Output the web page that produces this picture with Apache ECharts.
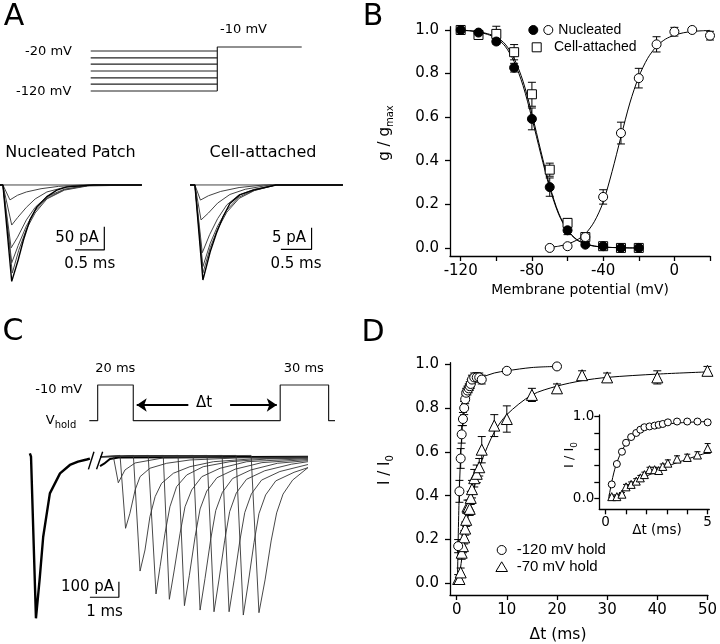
<!DOCTYPE html>
<html><head><meta charset="utf-8">
<script src="https://cdn.jsdelivr.net/npm/echarts@6/dist/echarts.min.js"></script>
<style>html,body{margin:0;padding:0;background:#fff}#c{width:720px;height:644px}</style>
</head><body><div id="c"></div>
<script>
// ---------- Panel A : voltage protocol (schematic, mV) ----------
const protoALevels = [-20, -37, -53, -70, -87, -103, -120];
const protoAStepTime = [0, 60];
const protoATest = [[60, -120], [60, -10], [100, -10]];

// ---------- Panel A : current traces [ms, pA] ----------
const nucTrace1 = [[0,0],[2.42,0]];
const nucTrace2 = [[0,0],[0.05,0],[0.17,-32],[0.3,-22],[0.45,-15],[0.7,-8],[1.0,-3],[1.4,0],[2.42,0]];
const nucTrace3 = [[0,0],[0.05,0],[0.2,-86],[0.3,-70],[0.45,-48],[0.6,-30],[0.8,-15],[1.1,-5],[1.5,0],[2.42,0]];
const nucTrace4 = [[0,0],[0.05,0],[0.19,-135],[0.3,-112],[0.45,-75],[0.6,-48],[0.8,-25],[1.1,-9],[1.5,-1],[2.42,0]];
const nucTrace5 = [[0,0],[0.05,0],[0.2,-167],[0.31,-130],[0.45,-88],[0.6,-55],[0.8,-28],[1.1,-10],[1.5,-1],[2.42,0]];
const nucTrace6 = [[0,0],[0.05,0],[0.21,-189],[0.32,-140],[0.45,-95],[0.6,-60],[0.8,-30],[1.1,-11],[1.5,-2],[2.42,0]];
const nucTrace7 = [[0,0],[0.05,0],[0.2,-207],[0.31,-161],[0.40,-118],[0.51,-75],[0.63,-47],[0.80,-25],[0.97,-11],[1.14,-4],[1.6,0],[2.42,0]];
const nucScaleBar = [[1.28,-139.5],[1.78,-139.5],[1.78,-89.5]];

const caTrace1 = [[0,0],[2.49,0]];
const caTrace2 = [[0,0],[0.08,0],[0.17,-3.5],[0.3,-2.5],[0.5,-1.5],[0.8,-0.6],[1.2,0],[2.49,0]];
const caTrace3 = [[0,0],[0.08,0],[0.18,-8.1],[0.3,-6.5],[0.45,-4.2],[0.65,-2.2],[0.9,-1],[1.3,0],[2.49,0]];
const caTrace4 = [[0,0],[0.08,0],[0.2,-15.7],[0.32,-11.5],[0.45,-7.8],[0.6,-4.6],[0.8,-2.3],[1.05,-1],[1.4,0],[2.49,0]];
const caTrace5 = [[0,0],[0.08,0],[0.21,-18.9],[0.33,-13.5],[0.45,-9.5],[0.6,-5.8],[0.8,-2.8],[1.05,-1.2],[1.4,0],[2.49,0]];
const caTrace6 = [[0,0],[0.08,0],[0.21,-20.4],[0.33,-14.5],[0.45,-10.2],[0.6,-6.3],[0.8,-3.1],[1.05,-1.3],[1.4,0],[2.49,0]];
const caTrace7 = [[0,0],[0.08,0],[0.21,-22],[0.33,-15.4],[0.43,-11.2],[0.54,-7.3],[0.65,-4.3],[0.81,-2.3],[1.03,-1.2],[1.4,0],[2.49,0]];
const caScaleBar = [[1.48,-14.9],[1.98,-14.9],[1.98,-9.9]];

// ---------- Panel B : g/gmax vs membrane potential ----------
const bVolt = [-120,-110,-100,-90,-80,-70,-60,-50,-40,-30,-20];
const nucInact = [1.0,0.988,0.947,0.827,0.592,0.279,0.081,0.015,0.008,0,0];
const nucInactErr = [0,0.008,0.012,0.02,0.05,0.042,0.02,0.008,0.005,0,0];
const caInact = [1.0,0.977,0.982,0.898,0.705,0.359,0.115,0.05,0.008,0,0];
const caInactErr = [0,0.012,0.035,0.035,0.055,0.03,0.02,0.015,0.005,0,0];
const actVolt = [-70,-60,-50,-40,-30,-20,-10,0,10,20];
const nucAct = [0.0,0.008,0.05,0.234,0.527,0.779,0.934,0.992,1.0,0.974];
const nucActErr = [0,0,0.01,0.033,0.05,0.045,0.035,0.02,0.005,0.02];
const inactFitVolt = [-120,-115,-110,-105,-100,-95,-90,-85,-80,-75,-70,-65,-60,-55,-50,-45,-40,-35,-30,-25,-20];
const nucInactFit = [0.998,0.996,0.99,0.98,0.962,0.925,0.855,0.745,0.595,0.43,0.275,0.155,0.08,0.038,0.018,0.008,0.004,0.002,0.001,0,0];
const caInactFit = [0.999,0.997,0.992,0.983,0.968,0.935,0.87,0.765,0.615,0.445,0.285,0.16,0.082,0.04,0.019,0.009,0.004,0.002,0.001,0,0];
const actFitVolt = [-70,-65,-60,-55,-50,-45,-40,-35,-30,-25,-20,-15,-10,-5,0,5,10,15,20];
const actFit = [0.003,0.008,0.018,0.035,0.065,0.12,0.21,0.35,0.51,0.665,0.785,0.87,0.925,0.958,0.976,0.987,0.993,0.996,0.998];
const bXTicks = [-120,-100,-80,-60,-40,-20,0,20];
const bXLabels = [-120,-80,-40,0];
const bYTicks = [0,0.2,0.4,0.6,0.8,1.0];

// ---------- Panel C : paired-pulse protocol (schematic) ----------
const protoC = [[0,-70],[3.4,-70],[3.4,-10],[17.9,-10],[17.9,-70],[77.7,-70],[77.7,-10],[97.4,-10],[97.4,-70],[100,-70]];
const dtArrowLeft = [[40.3,-43.6],[19.3,-43.6]];
const dtArrowRight = [[57.3,-43.6],[76.3,-43.6]];

// ---------- Panel C : current traces [ms, pA] ----------
const cTrace0 = [[0.34,22],[0.38,0],[0.55,-1036],[0.68,-780],[0.80,-513],[1.03,-235],[1.38,-107],[1.72,-53],[2.0,-32],[2.30,-18],[2.41,-12]];
const cBaseline = [[2.76,-60],[2.9,-45],[3.1,-15],[3.4,-5],[9.93,0]];
const cTrace1 = [[2.76,0],[3.22,0],[3.39,-167],[3.62,-85],[3.97,-40],[4.93,-8],[9.93,-2]];
const cTrace2 = [[2.76,0],[3.45,8],[3.64,-459],[3.79,-363],[3.97,-213],[4.14,-128],[4.48,-74],[5.06,-42],[5.86,-21],[7.5,-8],[9.93,-2]];
const cTrace3 = [[2.76,0],[3.91,8],[4.14,-733],[4.31,-598],[4.48,-385],[4.66,-256],[4.88,-171],[5.29,-106],[5.86,-64],[6.67,-32],[8,-14],[9.93,-6]];
const cTrace4 = [[2.76,0],[4.42,8],[4.69,-880],[4.83,-705],[5.0,-491],[5.17,-321],[5.40,-192],[5.75,-117],[6.32,-64],[7.24,-32],[8.5,-15],[9.93,-8]];
const cTrace5 = [[2.76,0],[4.94,8],[5.15,-914],[5.32,-726],[5.52,-491],[5.69,-321],[5.92,-213],[6.27,-128],[6.90,-74],[7.82,-32],[9.93,-12]];
const cTrace6 = [[2.76,0],[5.45,8],[5.67,-955],[5.84,-760],[6.04,-510],[6.21,-335],[6.44,-220],[6.79,-135],[7.42,-80],[8.34,-38],[9.93,-18]];
const cTrace7 = [[2.76,0],[5.97,8],[6.21,-983],[6.38,-780],[6.58,-525],[6.75,-345],[6.98,-228],[7.33,-140],[7.96,-85],[8.88,-42],[9.93,-25]];
const cTrace8 = [[2.76,0],[6.45,8],[6.69,-994],[6.86,-790],[7.06,-535],[7.23,-352],[7.46,-232],[7.81,-145],[8.44,-90],[9.36,-48],[9.93,-32]];
const cTrace9 = [[2.76,0],[6.97,8],[7.21,-994],[7.38,-795],[7.58,-540],[7.75,-358],[7.98,-238],[8.33,-150],[8.96,-95],[9.93,-50]];
const cTrace10 = [[2.76,0],[7.45,8],[7.70,-1015],[7.87,-810],[8.07,-550],[8.24,-365],[8.47,-245],[8.82,-155],[9.45,-100],[9.93,-70]];
const cTrace11 = [[2.76,0],[7.97,8],[8.24,-1000],[8.45,-790],[8.66,-540],[8.85,-360],[9.07,-240],[9.4,-150],[9.93,-70]];
const cBreak1 = [[2.36,-81],[2.55,32]];
const cBreak2 = [[2.64,-81],[2.85,32]];
const cScaleBar = [[2.41,-901],[3.41,-901],[3.41,-801]];

// ---------- Panel D : recovery from inactivation ----------
const dFastT = [0.3,0.55,0.8,1.0,1.25,1.5,1.7,1.9,2.15,2.4,2.6,2.8,3.05,3.5,4.0,4.5,5.0,10,20];
const dFast = [0.17,0.42,0.57,0.68,0.75,0.80,0.84,0.87,0.88,0.89,0.90,0.91,0.93,0.94,0.94,0.94,0.93,0.97,0.99];
const dFastErr = [0.03,0.05,0.045,0.04,0.03,0.03,0.02,0.02,0.02,0.02,0.02,0.02,0.02,0.02,0.02,0.02,0.02,0.01,0.01];
const dSlowT = [0.3,0.55,0.8,1.0,1.25,1.5,1.7,1.9,2.15,2.4,2.6,2.8,3.05,3.5,4.0,4.5,5.0,7.5,10,15,20,25,30,40,50];
const dSlow = [0.02,0.02,0.05,0.14,0.17,0.21,0.25,0.29,0.35,0.35,0.34,0.39,0.43,0.48,0.50,0.53,0.61,0.72,0.75,0.86,0.89,0.95,0.94,0.94,0.97];
const dSlowErr = [0.02,0.02,0.02,0.03,0.03,0.03,0.03,0.03,0.03,0.03,0.03,0.03,0.04,0.04,0.04,0.04,0.06,0.05,0.06,0.03,0.02,0.02,0.02,0.03,0.02];
const dFastFitT = [0.15,0.2,0.3,0.4,0.5,0.75,1,1.25,1.5,2,2.5,3,4,5,7.5,10,15,20];
const dFastFit = [0,0.07,0.2,0.31,0.4,0.56,0.67,0.75,0.8,0.86,0.89,0.91,0.93,0.94,0.96,0.97,0.985,0.99];
const dSlowFitT = [0.2,0.5,1,1.5,2,2.5,3,4,5,7.5,10,15,20,25,30,40,50];
const dSlowFit = [0,0.03,0.11,0.19,0.27,0.33,0.39,0.48,0.56,0.69,0.77,0.86,0.9,0.925,0.94,0.955,0.965];
const dXTicks = [0,10,20,30,40,50];
const dYTicks = [0,0.2,0.4,0.6,0.8,1.0];
const insetXTicks = [0,1,2,3,4,5];
const insetXLabels = [0,5];
const insetYTicks = [0,0.2,0.4,0.6,0.8,1.0];
const insetYLabels = [0,1];

// ---------- build ----------
const FF = 'DejaVu Sans';
const BLACK = '#000';
function zip(xs, ys){ return xs.map((x,i)=>[x, ys[i]]); }
function zip3(xs, ys, es){ return xs.map((x,i)=>[x, ys[i], es[i]]); }
function lineS(gi, data, opt){
  return Object.assign({type:'line', xAxisIndex:gi, yAxisIndex:gi, data:data, symbol:'none', silent:true,
    clip:false, lineStyle:{color:BLACK, width:1}, z:2}, opt||{});
}
function errS(gi, data, cap, clip){
  return {type:'custom', xAxisIndex:gi, yAxisIndex:gi, data:data, silent:true, z:3, clip:!!clip,
    encode:{x:0, y:1},
    renderItem:function(params, api){
      const x=api.value(0), y=api.value(1), e=api.value(2);
      if(!e) return null;
      const t=api.coord([x,y+e]), b=api.coord([x,y-e]);
      const st={stroke:BLACK, lineWidth:1};
      return {type:'group', children:[
        {type:'line', shape:{x1:t[0],y1:t[1],x2:b[0],y2:b[1]}, style:st},
        {type:'line', shape:{x1:t[0]-cap,y1:t[1],x2:t[0]+cap,y2:t[1]}, style:st},
        {type:'line', shape:{x1:b[0]-cap,y1:b[1],x2:b[0]+cap,y2:b[1]}, style:st}
      ]};
    }};
}
function scat(gi, data, sym, size, fill, z){
  return {type:'scatter', xAxisIndex:gi, yAxisIndex:gi, data:data, symbol:sym, symbolSize:size, silent:true,
    itemStyle:{color:fill, borderColor:BLACK, borderWidth:1, opacity:1}, z:z||5, clip:false};
}
function hidX(gi,min,max){ return {gridIndex:gi, type:'value', min:min, max:max, show:false}; }
function visAxis(gi, min, max, ticks, labels, fs, margin, fmt){
  return {gridIndex:gi, type:'value', min:min, max:max,
    axisLine:{show:true, onZero:false, lineStyle:{color:BLACK, width:1.3}},
    axisTick:{show:true, inside:false, length:5, customValues:ticks, lineStyle:{color:BLACK, width:1.3}},
    axisLabel:{show:true, customValues:labels, fontSize:fs, fontFamily:FF, color:BLACK, margin:margin,
      formatter: fmt},
    splitLine:{show:false}, minorTick:{show:false}};
}
function txt(x, y, text, size, opt){
  opt = opt||{};
  const st = {text:text, fontSize:size, fontFamily:opt.ff||FF, fill:BLACK,
    textAlign:opt.align||'center', textVerticalAlign:'middle', align:opt.align||'center', verticalAlign:'middle'};
  if(opt.rich) st.rich = opt.rich;
  return {type:'text', x:x, y:y, rotation:opt.rot||0, style:st, silent:true, z:100};
}
function subRich(size, subSize){
  return {m:{fontSize:size, fontFamily:FF, lineHeight:size+6, fill:BLACK, color:BLACK},
          s:{fontSize:subSize, fontFamily:FF, lineHeight:subSize, verticalAlign:'bottom', fill:BLACK, color:BLACK}};
}

const fmt1 = v => v.toFixed(1);
const fmt0 = v => String(v);

const grids = [
  {left:90.7, top:43, width:211, height:52},        // 0 A protocol
  {left:0, top:171, width:146.5, height:118.8},     // 1 A nucleated
  {left:190, top:172, width:153.5, height:116.6},   // 2 A cell-attached
  {left:450, top:26.7, width:260, height:229.3},    // 3 B
  {left:89.3, top:379.05, width:245.7, height:47.6},// 4 C protocol
  {left:20, top:441.1, width:290, height:195},      // 5 C traces
  {left:450, top:362.7, width:260, height:232.3},   // 6 D
  {left:599.3, top:415, width:110, height:94.3}     // 7 D inset
];

const xAxes = [
  hidX(0,0,100), hidX(1,0,2.5), hidX(2,0,2.5),
  visAxis(3,-126,20,bXTicks,bXLabels,15,8,fmt0),
  hidX(4,0,100), hidX(5,0,10),
  visAxis(6,-1.33,50.1,dXTicks,dXTicks,15,8,fmt0),
  visAxis(7,-0.31,5.08,insetXTicks,insetXLabels,13.5,6,fmt0)
];
const yAxes = [
  hidX(0,-130,0), hidX(1,-225,30), hidX(2,-24,3),
  visAxis(3,-0.037,1.015,bYTicks,bYTicks,15,11,fmt1),
  hidX(4,-80,0), hidX(5,-1150,100),
  visAxis(6,-0.053,1.007,dYTicks,dYTicks,15,11,fmt1),
  visAxis(7,-0.135,1.02,insetYTicks,insetYLabels,13.5,5,fmt1)
];

const series = [];
// A protocol
protoALevels.forEach(L => series.push(lineS(0, protoAStepTime.map(t=>[t,L]), {lineStyle:{color:'#222',width:1.2}})));
series.push(lineS(0, protoATest, {lineStyle:{color:'#222',width:1.2}}));
// A traces
[nucTrace1,nucTrace2,nucTrace3,nucTrace4,nucTrace5,nucTrace6].forEach(d => series.push(lineS(1,d,{lineStyle:{color:'#444',width:1}})));
series.push(lineS(1,nucTrace7,{lineStyle:{color:'#000',width:1.4}}));
series.push(lineS(1,nucScaleBar,{lineStyle:{color:'#000',width:1.2}}));
[caTrace1,caTrace2,caTrace3,caTrace4,caTrace5,caTrace6].forEach(d => series.push(lineS(2,d,{lineStyle:{color:'#444',width:1}})));
series.push(lineS(2,caTrace7,{lineStyle:{color:'#000',width:1.4}}));
series.push(lineS(2,caScaleBar,{lineStyle:{color:'#000',width:1.2}}));
// B fits
series.push(lineS(3, zip(inactFitVolt,nucInactFit), {smooth:0.3, lineStyle:{color:BLACK,width:1}}));
series.push(lineS(3, zip(inactFitVolt,caInactFit), {smooth:0.3, lineStyle:{color:BLACK,width:1}}));
series.push(lineS(3, zip(actFitVolt,actFit), {smooth:0.3, lineStyle:{color:BLACK,width:1}}));
// B error bars & markers
series.push(errS(3, zip3(bVolt,caInact,caInactErr), 4));
series.push(errS(3, zip3(bVolt,nucInact,nucInactErr), 4));
series.push(errS(3, zip3(actVolt,nucAct,nucActErr), 4));
series.push(scat(3, zip(bVolt,caInact), 'rect', 9, '#fff', 5));
series.push(scat(3, zip(bVolt,nucInact), 'circle', 9, '#000', 6));
series.push(scat(3, zip(actVolt,nucAct), 'circle', 9, '#fff', 6));
// C protocol
series.push(lineS(4, protoC, {lineStyle:{color:'#222',width:1.2},
  markLine:{silent:true, symbol:['none','arrow'], symbolSize:[10,10], label:{show:false},
    lineStyle:{color:BLACK, width:2, type:'solid'}, animation:false,
    data:[[{coord:dtArrowLeft[0]},{coord:dtArrowLeft[1]}],[{coord:dtArrowRight[0]},{coord:dtArrowRight[1]}]]}}));
// C traces
series.push(lineS(5, cTrace0, {lineStyle:{color:'#000',width:2.4}}));
series.push(lineS(5, cBaseline, {lineStyle:{color:'#000',width:2}}));
[cTrace1,cTrace2,cTrace3,cTrace4,cTrace5,cTrace6,cTrace7,cTrace8,cTrace9,cTrace10,cTrace11].forEach(d =>
  series.push(lineS(5, d, {lineStyle:{color:'#333',width:0.9}})));
series.push(lineS(5, cBreak1, {lineStyle:{color:'#000',width:1.4}}));
series.push(lineS(5, cBreak2, {lineStyle:{color:'#000',width:1.4}}));
series.push(lineS(5, cScaleBar, {lineStyle:{color:'#000',width:1.2}}));
// D main
series.push(lineS(6, zip(dFastFitT,dFastFit), {smooth:0.3}));
series.push(lineS(6, zip(dSlowFitT,dSlowFit), {smooth:0.3}));
series.push(errS(6, zip3(dFastT,dFast,dFastErr), 4));
series.push(errS(6, zip3(dSlowT,dSlow,dSlowErr), 4));
series.push(scat(6, zip(dFastT,dFast), 'circle', 9, '#fff', 6));
series.push(scat(6, zip(dSlowT,dSlow), 'triangle', 11, '#fff', 5));
// D inset
const inFast = zip(dFastT,dFast).filter(p=>p[0]<=5.05), inSlow = zip(dSlowT,dSlow).filter(p=>p[0]<=5.05);
series.push(lineS(7, zip(dFastFitT,dFastFit).filter(p=>p[0]<=5.05), {smooth:0.3}));
series.push(lineS(7, zip(dSlowFitT,dSlowFit).filter(p=>p[0]<=5.05), {smooth:0.3}));
series.push(errS(7, zip3(dSlowT,dSlow,dSlowErr).filter(p=>p[0]<=5.05), 3));
series.push(scat(7, inFast, 'circle', 7, '#fff', 6));
series.push(scat(7, inSlow, 'triangle', 8, '#fff', 5));

const graphic = [
  txt(14,17,'A',30), txt(373,17,'B',30), txt(13,332,'C',30), txt(373,333,'D',30),
  // A
  txt(48.5,51.7,'-20 mV',13), txt(43.7,91.7,'-120 mV',13), txt(243.5,29.3,'-10 mV',13),
  txt(70.5,153,'Nucleated Patch',16), txt(263,153,'Cell-attached',16),
  txt(77,238.3,'50 pA',15), txt(89.7,264.3,'0.5 ms',15),
  txt(289,238.3,'5 pA',15), txt(296,264.3,'0.5 ms',15),
  // B
  txt(385,133,'{m|g / g}{s|max}',15,{rot:Math.PI/2, rich:subRich(15,10)}),
  txt(580,290,'Membrane potential (mV)',13.8),
  {type:'circle', shape:{cx:533.3,cy:30,r:4.5}, style:{fill:'#000',stroke:'#000',lineWidth:1}, z:100},
  {type:'circle', shape:{cx:548.3,cy:30,r:4.5}, style:{fill:'#fff',stroke:'#000',lineWidth:1}, z:100},
  txt(558.3,30,'Nucleated',14,{align:'left', ff:'Liberation Sans'}),
  {type:'rect', shape:{x:532.2,y:42.8,width:9,height:9}, style:{fill:'#fff',stroke:'#000',lineWidth:1}, z:100},
  txt(554,47.3,'Cell-attached',14,{align:'left', ff:'Liberation Sans'}),
  // C
  txt(115.3,368.3,'20 ms',13), txt(303.8,368.3,'30 ms',13), txt(58.8,390,'-10 mV',13),
  txt(61,421,'{m|V}{s|hold}',13,{rich:subRich(13,10)}),
  txt(204,403.3,'\u0394t',15),
  txt(87.5,586.7,'100 pA',15), txt(104.5,612,'1 ms',15),
  // D
  txt(385,470,'{m|I / I}{s|0}',15,{rot:Math.PI/2, rich:subRich(15,10)}),
  txt(558,635,'\u0394t (ms)',15.5),
  txt(569.3,455,'{m|I / I}{s|0}',13,{rot:Math.PI/2, rich:subRich(13,9)}),
  txt(657,530,'\u0394t (ms)',13.5),
  {type:'circle', shape:{cx:501.7,cy:550,r:4.5}, style:{fill:'#fff',stroke:'#000',lineWidth:1}, z:100},
  txt(516.7,550,'-120 mV hold',15,{align:'left', ff:'Liberation Sans'}),
  {type:'polygon', shape:{points:[[501.7,561.8],[507.5,571.5],[495.9,571.5]]}, style:{fill:'#fff',stroke:'#000',lineWidth:1}, z:100},
  txt(516.7,567.3,'-70 mV hold',15,{align:'left', ff:'Liberation Sans'})
];

const chart = echarts.init(document.getElementById('c'), null, {renderer:'canvas', width:720, height:644});
chart.setOption({
  animation:false,
  backgroundColor:'#fff',
  textStyle:{fontFamily:FF},
  grid:grids, xAxis:xAxes, yAxis:yAxes, series:series, graphic:graphic
});
</script>
</body></html>
